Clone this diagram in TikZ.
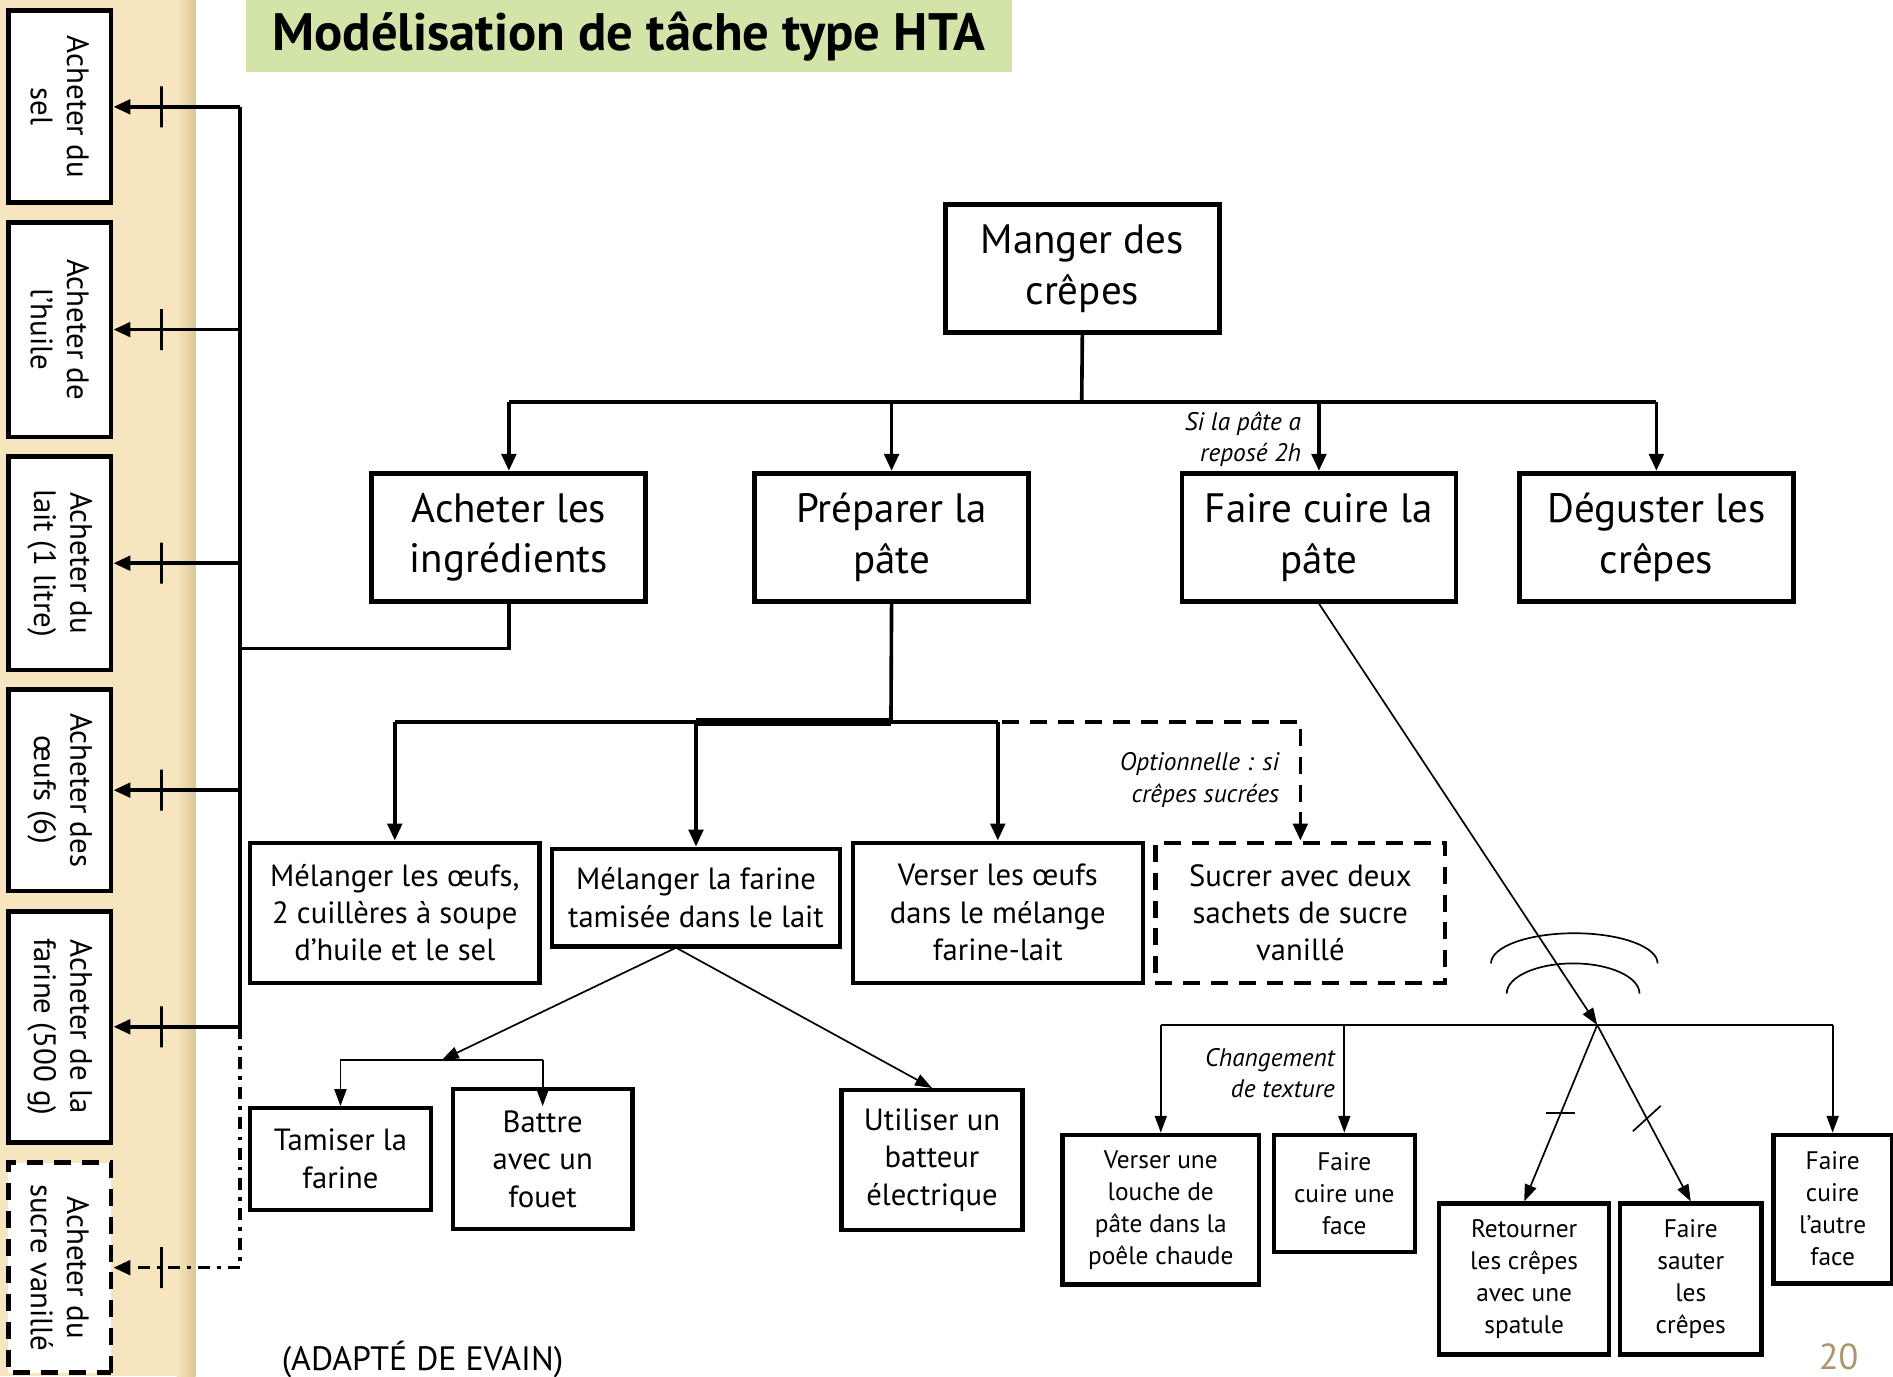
\documentclass[tikz,border=0pt]{standalone}
\usepackage{fontspec}
\setmainfont{PT Sans}
\usetikzlibrary{positioning,arrows.meta}
\definecolor{stripTan}{RGB}{246,229,190}
\definecolor{stripEdge}{RGB}{220,198,148}
\definecolor{titleGreen}{RGB}{210,228,168}
\definecolor{pageNum}{RGB}{170,150,105}

\begin{document}
\begin{tikzpicture}[x=0.5pt, y=-0.5pt,
		mainnode/.style={rectangle, draw=black, line width=2pt, fill=white, align=center, inner sep=0pt, minimum width=113.5pt, minimum height=53pt, font=\fontsize{17}{21}\selectfont},
		subnode/.style={rectangle, draw=black, line width=1.8pt, fill=white, align=center, inner sep=0pt, font=\fontsize{12.7}{15.5}\selectfont},
		leafnode/.style={rectangle, draw=black, line width=1.8pt, fill=white, align=center, inner sep=0pt, font=\fontsize{10.5}{13.25}\selectfont},
		buynode/.style={rectangle, draw=black, line width=2pt, fill=white, align=center, inner sep=0pt, rotate=-90, minimum height=42.5pt, font=\fontsize{12.8}{15}\selectfont},
		optnode/.style={dash pattern=on 7pt off 4.5pt},
		note/.style={align=right, inner sep=0pt, font=\fontsize{10.5}{13}\selectfont\itshape},
		link/.style={draw=black, line width=1.5pt},
		arr/.style={link, -{Triangle[length=7pt,width=6pt]}},
		thinlink/.style={draw=black, line width=0.7pt},
		thinarr/.style={thinlink, -{Triangle[length=7pt,width=5pt]}},
		tick/.style={draw=black, solid, line width=1.5pt, minimum width=0pt, minimum height=17pt, inner sep=0pt}
		]
		\useasboundingbox (0,0) rectangle (1568,1140);
		
		% Background
		\fill[stripTan] (0,0) rectangle (160,1140);
		\shade[left color=stripTan, right color=stripEdge] (146,0) rectangle (162,1140);
		\node[fill=titleGreen, minimum width=317pt, minimum height=30pt, font=\fontsize{21.8}{25}\selectfont\bfseries] (title) at (521,30) {Modélisation de tâche type HTA};
		
		% Buying nodes
		\node[buynode, minimum width=79.5pt] (sel) at (49.5,88.5) {Acheter du\\sel};
		\node[buynode, minimum width=89pt] (huile) at (49.5,273) {Acheter de\\l'huile};
		\node[buynode, minimum width=88.5pt] (lait) at (49.5,466.5) {Acheter du\\lait (1 litre)};
		\node[buynode, minimum width=83.5pt] (oeufs) at (49.5,654.5) {Acheter des\\œufs (6)};
		\node[buynode, minimum width=95.5pt] (farine) at (49.5,850.5) {Acheter de la\\farine (500 g)};
		\node[buynode, optnode, minimum width=87pt] (sucre) at (49.5,1050) {Acheter du\\sucre vanillé};
		
		% Main nodes
		\node[mainnode] (manger) at (896.5,222.5) {Manger des\\crêpes};
		\node[mainnode] (acheter) at (421.5,445) {Acheter les\\ingrédients};
		\node[mainnode] (preparer) at (738.5,445) {Préparer la\\pâte};
		\node[mainnode] (cuire) at (1092.5,445) {Faire cuire la\\pâte};
		\node[mainnode] (deguster) at (1372,445) {Déguster les\\crêpes};
		
		% Preparation nodes
		\node[subnode, minimum width=120pt, minimum height=58pt] (melOeufs) at (327,756) {Mélanger les œufs,\\2 cuillères à soupe\\d’huile et le sel};
		\node[subnode, minimum width=119.5pt, minimum height=40.5pt] (melFarine) at (576.5,743.5) {Mélanger la farine\\tamisée dans le lait};
		\node[subnode, minimum width=120pt, minimum height=58pt] (verserOeufs) at (826.5,756) {Verser les œufs\\dans le mélange\\farine-lait};
		\node[subnode, optnode, minimum width=120pt, minimum height=58pt] (sucrer) [right=3.5pt of verserOeufs] {Sucrer avec deux\\sachets de sucre\\vanillé};
		\node[subnode, minimum width=75pt, minimum height=42pt] (tamiser) at (282,960) {Tamiser la\\farine};
		\node[subnode, minimum width=74.5pt, minimum height=58pt] (battre) at (449.5,960) {Battre\\avec un\\fouet};
		\node[subnode, minimum width=75pt, minimum height=58pt] (batteur) at (772,961) {Utiliser un\\batteur\\électrique};
		
		% Cooking nodes
		\node[leafnode, minimum width=81.5pt, minimum height=62pt] (louche) at (961.5,1002) {Verser une\\louche de\\pâte dans la\\poêle chaude};
		\node[leafnode, minimum width=58.5pt, minimum height=48.5pt] (uneFace) at (1113.5,988.5) {Faire\\cuire une\\face};
		\node[leafnode, minimum width=70.5pt, minimum height=62.5pt] (retourner) at (1262.5,1059.5) {Retourner\\les crêpes\\avec une\\spatule};
		\node[leafnode, minimum width=58.5pt, minimum height=62.5pt] (sauter) at (1400.5,1059.5) {Faire\\sauter\\les\\crêpes};
		\node[leafnode, minimum width=49pt, minimum height=61.5pt] (autreFace) at (1518,1001.5) {Faire\\cuire\\l’autre\\face};
		
		% Notes
		\node[note, anchor=east] (reposeNote) at (1078,364) {Si la pâte a\\reposé 2h};
		\node[note, anchor=east] (optNote) at (1060,646) {Optionnelle : si\\crêpes sucrées};
		\node[note, anchor=east] (textureNote) at (1106,889) {Changement\\de texture};
		\node[anchor=west, inner sep=0pt, font=\fontsize{14}{16}\selectfont] (source) at (233,1126) {(ADAPTÉ DE EVAIN)};
		\node[text=pageNum, inner sep=0pt, anchor=base, font=\fontsize{15}{18}\selectfont] (pagenum) at (1523,1134) {20};
		
		% Level 1
		\coordinate (bar1) at (896,333);
		\draw[link] (manger.south) -- (bar1);
		\draw[link] (acheter.north |- bar1) -- (deguster.north |- bar1);
		\draw[arr] (acheter.north |- bar1) -- (acheter.north);
		\draw[arr] (preparer.north |- bar1) -- (preparer.north);
		\draw[arr] (cuire.north |- bar1) -- (cuire.north);
		\draw[arr] (deguster.north |- bar1) -- (deguster.north);
		
		% Buying
		\coordinate (trunk) at (199,537);
		\draw[link] (acheter.south) |- (trunk);
		\draw[link] (sel.north -| trunk) -- (farine.north -| trunk);
		\draw[link, dash pattern=on 5pt off 3pt on 1.5pt off 3pt] (farine.north -| trunk) -- (sucre.north -| trunk);
		\draw[arr] (sel.north -| trunk) -- node[tick, pos=0.62] {} (sel.north);
		\draw[arr] (huile.north -| trunk) -- node[tick, pos=0.62] {} (huile.north);
		\draw[arr] (lait.north -| trunk) -- node[tick, pos=0.62] {} (lait.north);
		\draw[arr] (oeufs.north -| trunk) -- node[tick, pos=0.62] {} (oeufs.north);
		\draw[arr] (farine.north -| trunk) -- node[tick, pos=0.62] {} (farine.north);
		\draw[arr, dash pattern=on 5pt off 3pt on 1.5pt off 3pt] (sucre.north -| trunk) -- node[tick, pos=0.62] {} (sucre.north);
		
		% Preparation
		\coordinate (bar2) at (738,598);
		\draw[link] (preparer.south) -- (bar2);
		\draw[link] (melOeufs.north |- bar2) -- (verserOeufs.north |- bar2);
		\draw[link, line width=3pt] (melFarine.north |- bar2) -- (bar2);
		\draw[arr] (melOeufs.north |- bar2) -- (melOeufs.north);
		\draw[arr] (melFarine.north |- bar2) -- (melFarine.north);
		\draw[arr] (verserOeufs.north |- bar2) -- (verserOeufs.north);
		\draw[arr, optnode] (bar2) -| (sucrer.north);
		
		\coordinate (apex) at (560,785);
		\coordinate (bar4) at (366,878);
		\draw[thinarr] (apex) -- (bar4);
		\draw[thinlink] (tamiser.north |- bar4) -- (battre.north |- bar4);
		\draw[thinarr] (tamiser.north |- bar4) -- (tamiser.north);
		\draw[thinarr] (battre.north |- bar4) -- ([yshift=-8pt]battre.north);
		\draw[thinarr] (apex) -- (batteur.north);
		
		% Cooking
		\coordinate (apex2) at (1323,849);
		\draw[thinarr] (cuire.south) -- (apex2);
		\draw[thinlink] (1235,798) arc[start angle=180, end angle=360, x radius=69, y radius=25];
		\draw[thinlink] (1248,823) arc[start angle=180, end angle=360, x radius=55, y radius=25];
		\draw[thinlink] (louche.north |- apex2) -- (autreFace.north |- apex2);
		\draw[link, line width=1.2pt] (uneFace.north |- apex2) -- (apex2);
		\draw[thinarr] (louche.north |- apex2) -- (louche.north);
		\draw[thinarr] (uneFace.north |- apex2) -- (uneFace.north);
		\draw[thinarr] (autreFace.north |- apex2) -- (autreFace.north);
		\draw[thinarr] (apex2) -- coordinate[pos=0.5] (flipTick) (retourner.north);
		\draw[thinarr] (apex2) -- coordinate[pos=0.53] (tossTick) (sauter.north);
		\draw[thinlink] ([xshift=-6pt]flipTick) -- ([xshift=6pt]flipTick);
		\draw[thinlink] ([shift={(-5.75pt,-5.25pt)}]tossTick) -- ([shift={(5.75pt,5.25pt)}]tossTick);
	\end{tikzpicture}
\end{document}
